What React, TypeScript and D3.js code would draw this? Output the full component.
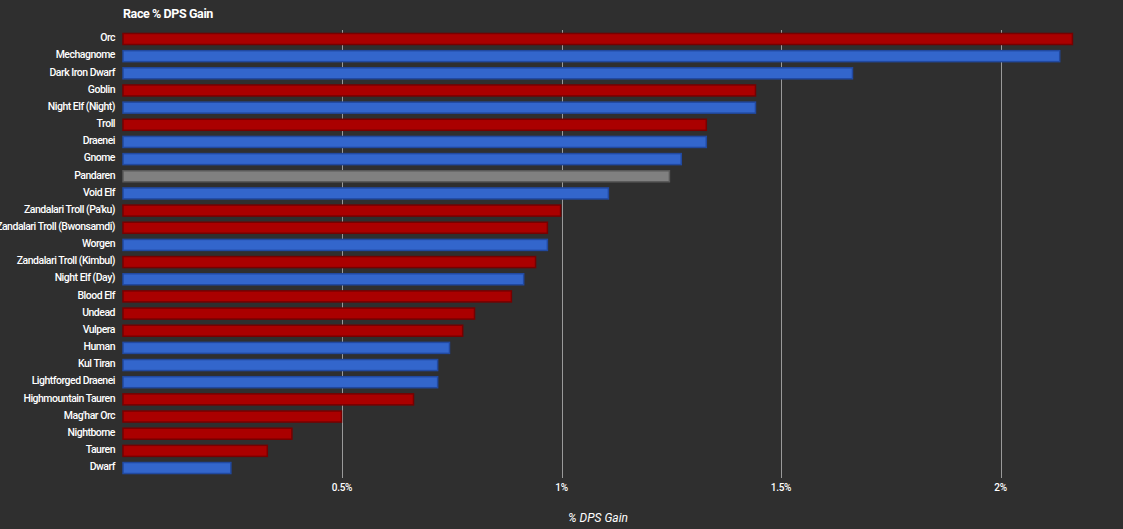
import * as d3 from 'd3';
import React, { useRef, useEffect } from 'react';

const races = [
  'Orc', 'Mechagnome', 'Dark Iron Dwarf', 'Goblin', 'Night Elf (Night)', 'Troll', 'Draenei', 'Gnome',
  'Pandaren', 'Void Elf', "Zandalari Troll (Pa'ku)", 'Zandalari Troll (Bwonsamdi)', 'Worgen',
  'Zandalari Troll (Kimbul)', 'Night Elf (Day)', 'Blood Elf', 'Undead', 'Vulpera', 'Human', 'Kul Tiran',
  'Lightforged Draenei', 'Highmountain Tauren', "Mag'har Orc", 'Nightborne', 'Tauren', 'Dwarf'
];
const gains = [
  2.165, 2.136, 1.664, 1.443, 1.443, 1.331, 1.331, 1.274, 1.247, 1.108, 0.999, 0.969, 0.969, 0.942,
  0.915, 0.887, 0.803, 0.776, 0.746, 0.719, 0.719, 0.664, 0.5, 0.387, 0.331, 0.248
];
// h = horde, a = alliance, n = neutral
const factions = [
  'h', 'a', 'a', 'h', 'a', 'h', 'a', 'a', 'n', 'a', 'h', 'h', 'a', 'h', 'a', 'h', 'h', 'h', 'a', 'a',
  'a', 'h', 'h', 'h', 'h', 'a'
];
const ticks = [0.5, 1, 1.5, 2];

const W = 1123, H = 529;

function RaceChart() {
  const ref = useRef(null);

  useEffect(() => {
    const svg = d3.select(ref.current);
    svg.selectAll('*').remove();

    const x = d3.scaleLinear().domain([0, 1]).range([122.5, 122.5 + 439]);
    const y = d3.scaleBand().domain(races).range([30.4, 476.6]).paddingInner(0.3).paddingOuter(0.15);

    const fill = { h: '#aa0000', a: '#3366cc', n: '#808080' };
    const stroke = { h: '#770000', a: '#2149a0', n: '#5a5a5a' };
    const data = races.map((r, i) => ({ race: r, v: gains[i], f: factions[i] }));

    svg.append('rect').attr('width', W).attr('height', H).attr('fill', '#2f2f2f');

    // gridlines
    svg.append('g').selectAll('line').data(ticks).enter().append('line')
      .attr('x1', d => Math.round(x(d)) + 0.5).attr('x2', d => Math.round(x(d)) + 0.5)
      .attr('y1', 30).attr('y2', 478)
      .attr('stroke', '#9a9a9a').attr('stroke-width', 1);

    // bars
    svg.append('g').selectAll('rect').data(data).enter().append('rect')
      .attr('x', x(0) + 0.5)
      .attr('y', d => y(d.race) + 0.5)
      .attr('width', d => x(d.v) - x(0) - 1)
      .attr('height', y.bandwidth() - 1)
      .attr('fill', d => fill[d.f])
      .attr('stroke', d => stroke[d.f])
      .attr('stroke-width', 1.5);

    // category labels
    svg.append('g').selectAll('text').data(data).enter().append('text')
      .attr('x', 115)
      .attr('y', d => y(d.race) + y.bandwidth() / 2)
      .attr('dy', '-0.05em')
      .attr('text-anchor', 'end')
      .attr('dominant-baseline', 'middle')
      .style('font-family', 'Roboto, sans-serif')
      .style('font-size', '10.5px')
      .style('font-weight', 500)
      .style('letter-spacing', '-0.5px')
      .attr('fill', '#ffffff')
      .text(d => d.race);

    // tick labels
    svg.append('g').selectAll('text').data(ticks).enter().append('text')
      .attr('x', d => x(d))
      .attr('y', 491)
      .attr('text-anchor', 'middle')
      .style('font-family', 'Roboto, sans-serif')
      .style('font-size', '10px')
      .style('font-weight', 500)
      .style('letter-spacing', '-0.3px')
      .attr('fill', '#ffffff')
      .text(d => d + '%');

    // title
    svg.append('text')
      .attr('x', 123).attr('y', 18)
      .style('font-family', 'Roboto, sans-serif')
      .style('font-size', '12.5px')
      .style('font-weight', 700)
      .style('letter-spacing', '-0.4px')
      .attr('fill', '#ffffff')
      .text('Race % DPS Gain');

    // axis title
    svg.append('text')
      .attr('x', 598).attr('y', 522)
      .attr('text-anchor', 'middle')
      .style('font-family', 'Roboto, sans-serif')
      .style('font-size', '12px')
      .style('font-style', 'italic')
      .attr('fill', '#ffffff')
      .text('% DPS Gain');
  }, []);

  return <svg ref={ref} width={W} height={H} style={{ display: 'block' }}></svg>;
}

export default function App() {
  return (
    <div style={{ position: 'fixed', left: 0, top: 0 }}>
      <RaceChart />
    </div>
  );
}
